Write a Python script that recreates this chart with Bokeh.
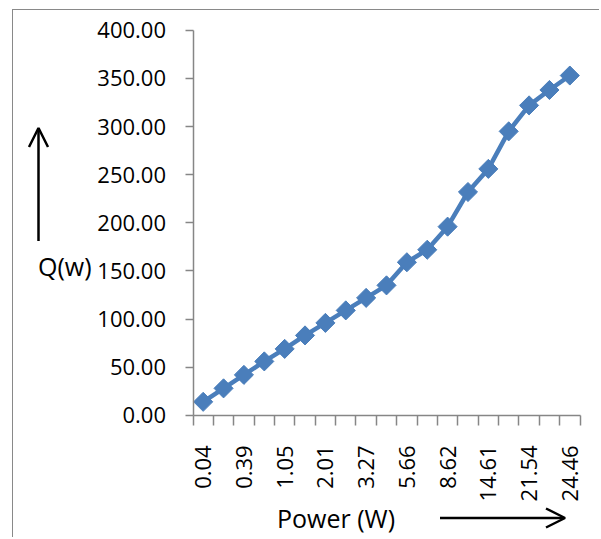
import numpy as np
from bokeh.plotting import figure
from bokeh.models import (FixedTicker, NumeralTickFormatter, Range1d, Label, Arrow, OpenHead)
from bokeh.embed import file_html
from bokeh.resources import INLINE

# Data
power_labels = ["0.04", "0.39", "1.05", "2.01", "3.27", "5.66", "8.62", "14.61", "21.54", "24.46"]
q_values = [14, 28, 42, 56, 69, 83, 96, 109, 122, 135, 159, 172, 196, 232, 256, 295, 322, 338, 353]
y_ticks = [0, 50, 100, 150, 200, 250, 300, 350, 400]

n = len(q_values)
x_idx = list(range(1, n + 1))
label_pos = x_idx[::2]

FONT = "Open Sans"
BLUE = "#4A7EBB"
GRAY = "#868686"

# Canvas geometry (page offset comes from the CSS margin + border of the chart box)
W, H = 587, 528
OX, OY = 13.5, 10.5
plot_left, plot_right = 193 - OX, 580 - OX      # canvas px of the category span
plot_top, plot_bottom = 30.3 - OY, 415.3 - OY   # canvas px of 400 and 0

x0, x1 = 0.5, n + 0.5
y0, y1 = 0, 400
sx = (plot_right - plot_left) / (x1 - x0)
sy = (plot_bottom - plot_top) / (y1 - y0)
x_range = Range1d(x0 - plot_left / sx, x1 + (W - plot_right) / sx)
y_range = Range1d(y0 - (H - plot_bottom) / sy, y1 + plot_top / sy)

p = figure(width=W, height=H, output_backend="svg", toolbar_location=None,
           x_range=x_range, y_range=y_range,
           min_border_left=0, min_border_right=0, min_border_top=0, min_border_bottom=0,
           styles={"margin-left": "12px", "margin-top": "9px",
                   "border-left": "1.5px solid #898989", "border-top": "1.5px solid #898989"})
p.outline_line_color = None
p.grid.visible = False
p.background_fill_color = "white"
p.border_fill_color = "white"

p.line(x_idx, q_values, line_color=BLUE, line_width=4.5)
p.scatter(x_idx, q_values, marker="square", angle=np.pi / 4, size=13.5,
          fill_color=BLUE, line_color=BLUE)

# y axis
ya = p.yaxis[0]
ya.fixed_location = x0
ya.bounds = (y0, y1)
ya.ticker = FixedTicker(ticks=y_ticks, minor_ticks=[])
ya.formatter = NumeralTickFormatter(format="0.00")
ya.axis_line_color = GRAY
ya.axis_line_width = 1.5
ya.major_tick_line_color = GRAY
ya.major_tick_line_width = 1.5
ya.major_tick_out = 8
ya.major_tick_in = 0
ya.minor_tick_line_color = None
ya.major_label_standoff = 19
ya.major_label_text_font = FONT
ya.major_label_text_font_size = "22px"
ya.major_label_text_color = "black"

# x axis
xa = p.xaxis[0]
xa.fixed_location = y0
xa.bounds = (x0, x1)
xa.ticker = FixedTicker(ticks=label_pos, minor_ticks=[i + 0.5 for i in range(0, n + 1)])
xa.major_label_overrides = {pos: lab for pos, lab in zip(label_pos, power_labels)}
xa.major_label_orientation = np.pi / 2
xa.axis_line_color = GRAY
xa.axis_line_width = 1.5
xa.major_tick_line_color = None
xa.major_tick_out = 0
xa.major_tick_in = 0
xa.minor_tick_line_color = GRAY
xa.minor_tick_line_width = 1.5
xa.minor_tick_out = 10
xa.minor_tick_in = 0
xa.major_label_standoff = 20
xa.major_label_text_font = FONT
xa.major_label_text_font_size = "22px"
xa.major_label_text_color = "black"


def scr(px, py):
    """page pixel -> screen units (relative to frame bottom-left)"""
    return px - OX, H - (py - OY)


# Axis titles and arrows
qx, qy = scr(38, 266)
p.add_layout(Label(x=qx, y=qy, x_units="screen", y_units="screen", text="Q(w)",
                   text_font=FONT, text_font_size="25px", text_align="left",
                   text_baseline="middle", text_color="black"))
tx, ty = scr(277, 518)
p.add_layout(Label(x=tx, y=ty, x_units="screen", y_units="screen", text="Power (W)",
                   text_font=FONT, text_font_size="25px", text_align="left",
                   text_baseline="middle", text_color="black"))
ax0, ay0 = scr(38.5, 241)
ax1, ay1 = scr(38.5, 128)
p.add_layout(Arrow(x_start=ax0, y_start=ay0, x_end=ax1, y_end=ay1,
                   start_units="screen", end_units="screen",
                   line_color="black", line_width=2.5,
                   end=OpenHead(size=19, line_color="black", line_width=2.5)))
bx0, by0 = scr(440, 518)
bx1, by1 = scr(565, 518)
p.add_layout(Arrow(x_start=bx0, y_start=by0, x_end=bx1, y_end=by1,
                   start_units="screen", end_units="screen",
                   line_color="black", line_width=2.5,
                   end=OpenHead(size=19, line_color="black", line_width=2.5)))

open("out.html", "w").write(file_html(p, INLINE))
